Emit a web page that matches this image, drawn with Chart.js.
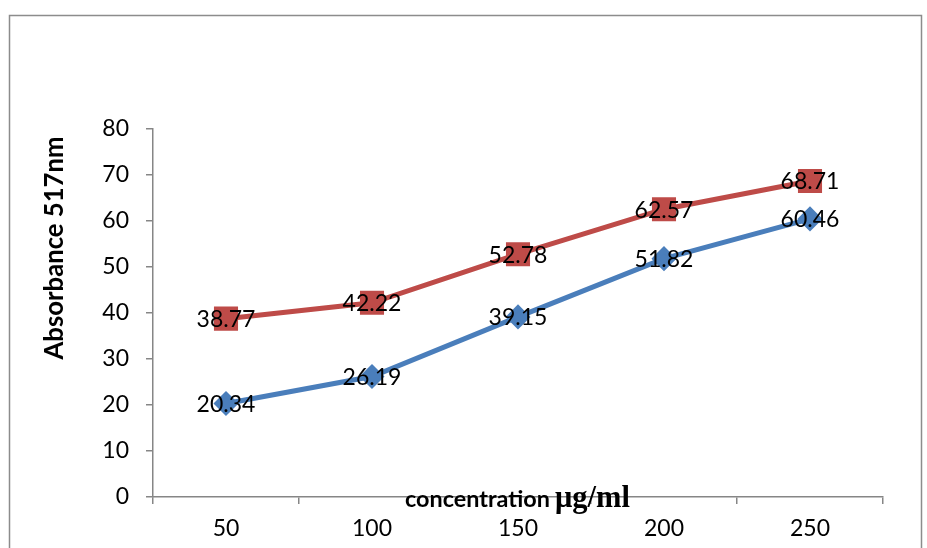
<!DOCTYPE html>
<html>
<head>
<meta charset="utf-8">
<script src="https://cdn.jsdelivr.net/npm/chart.js@4/dist/chart.umd.min.js"></script>
<style>
  html, body { margin: 0; padding: 0; background: #fff; }
  #wrap { width: 927px; height: 548px; position: relative; }
</style>
</head>
<body>
<div id="wrap"><canvas id="c"></canvas></div>
<script>
// values
const categories = ['50', '100', '150', '200', '250'];
const blueValues = [20.34, 26.19, 39.15, 51.82, 60.46];
const redValues = [38.77, 42.22, 52.78, 62.57, 68.71];
const yTicks = [0, 10, 20, 30, 40, 50, 60, 70, 80];
const xTitleSans = 'concentration ';
const xTitleSerif = 'μg/ml';
const yTitle = 'Absorbance 517nm';

const AXIS = '#868686';
const BLUE = '#4a7ebb';
const RED = '#be4b48';

// font size that makes a string span the given width
function fitFont(ctx, text, weight, family, width) {
  ctx.font = `${weight} 20px ${family}`;
  const size = 20 * width / ctx.measureText(text).width;
  return `${weight} ${size.toFixed(1)}px ${family}`;
}

// outer frame + axis titles + value labels
const decor = {
  id: 'decor',
  beforeDraw(chart) {
    const ctx = chart.ctx;
    ctx.save();
    ctx.strokeStyle = '#8c8c8c';
    ctx.lineWidth = 1.5;
    ctx.beginPath();
    ctx.moveTo(9.5, 548);
    ctx.lineTo(9.5, 15.5);
    ctx.lineTo(921.5, 15.5);
    ctx.lineTo(921.5, 548);
    ctx.stroke();
    ctx.restore();
  },
  afterDatasetsDraw(chart) {
    const ctx = chart.ctx;
    const { y } = chart.scales;
    ctx.save();
    ctx.fillStyle = '#000';
    ctx.textBaseline = 'middle';
    ctx.textAlign = 'center';
    ctx.font = '23px Lato';
    chart.data.datasets.forEach((ds, i) => {
      chart.getDatasetMeta(i).data.forEach((pt, j) => {
        ctx.fillText(ds.data[j].toFixed(2), pt.x, pt.y + 1);
      });
    });
    // x title, overlapping the axis line; sans word + serif unit
    ctx.textAlign = 'left';
    ctx.textBaseline = 'alphabetic';
    ctx.font = fitFont(ctx, xTitleSans.trim(), 'bold', 'Lato', 145);
    ctx.fillText(xTitleSans, 405, y.bottom + 10);
    ctx.font = fitFont(ctx, xTitleSerif, 'bold', '"Liberation Serif"', 75);
    ctx.fillText(xTitleSerif, 555, y.bottom + 10);
    // y title rotated
    ctx.textAlign = 'center';
    ctx.textBaseline = 'middle';
    ctx.translate(55, 248);
    ctx.rotate(-Math.PI / 2);
    ctx.font = fitFont(ctx, yTitle, 'bold', 'Lato', 223);
    ctx.fillText(yTitle, 0, 0);
    ctx.restore();
  }
};

new Chart(document.getElementById('c'), {
  type: 'line',
  data: {
    labels: categories,
    datasets: [
      { label: 'Series1', data: blueValues, borderColor: BLUE, backgroundColor: BLUE,
        borderWidth: 5, pointStyle: 'rectRot', pointRadius: 9, pointHoverRadius: 9, tension: 0 },
      { label: 'Series2', data: redValues, borderColor: RED, backgroundColor: RED,
        borderWidth: 5, pointStyle: 'rect', pointRadius: 13.5, pointHoverRadius: 13.5, tension: 0 }
    ]
  },
  options: {
    responsive: true,
    maintainAspectRatio: false,
    animation: false,
    events: [],
    layout: { padding: { left: 0, right: 44, top: 129, bottom: 0 } },
    plugins: { legend: { display: false }, tooltip: { enabled: false } },
    scales: {
      x: {
        offset: true,
        grid: { offset: true, drawOnChartArea: false, color: AXIS, tickLength: 7, lineWidth: 1.5 },
        border: { color: AXIS, width: 1.5 },
        ticks: { color: '#000', font: { family: 'Lato', size: 23 }, padding: 11, maxRotation: 0 },
        afterFit(s) { s.height = 51; }
      },
      y: {
        min: 0, max: 80,
        afterBuildTicks(s) { s.ticks = yTicks.map(v => ({ value: v })); },
        grid: { drawOnChartArea: false, color: AXIS, tickLength: 7, lineWidth: 1.5 },
        border: { color: AXIS, width: 1.5 },
        ticks: { color: '#000', font: { family: 'Lato', size: 23 }, padding: 17 },
        afterFit(s) { s.width = 153; }
      }
    }
  },
  plugins: [decor]
});
</script>
</body>
</html>
